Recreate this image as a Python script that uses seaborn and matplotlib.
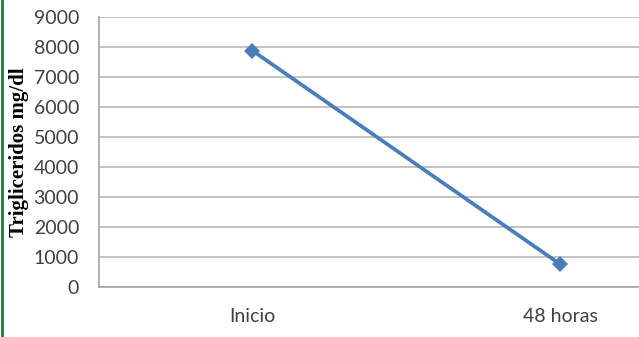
import matplotlib
matplotlib.use("Agg")
import matplotlib.pyplot as plt
import seaborn as sns
import pandas as pd

categories = ["Inicio", "48 horas"]
values = [7880, 760]
y_ticks = [0, 1000, 2000, 3000, 4000, 5000, 6000, 7000, 8000, 9000]

df = pd.DataFrame({"momento": categories, "trig": values})

sns.set_theme(style="white")
plt.rcParams["font.family"] = ["Lato", "DejaVu Sans"]

W, H = 639, 337
fig = plt.figure(figsize=(W / 100, H / 100), dpi=100)
fig.patch.set_facecolor("white")
left, right, top, bottom = 98.5, 714, 17, 287
ax = fig.add_axes([left / W, 1 - bottom / H, (right - left) / W, (bottom - top) / H])

x_pos = list(range(len(categories)))
sns.lineplot(x=x_pos, y=df["trig"], ax=ax, color="#4a7ebb", linewidth=2.7,
             marker="D", markersize=8.5, markeredgewidth=0, markerfacecolor="#4a7ebb")

ax.set_xlim(-0.5, len(categories) - 0.5)
ax.set_ylim(0, 9000)
ax.set_yticks(y_ticks)
ax.set_yticklabels([str(t) for t in y_ticks], fontsize=14, color="#404040")
ax.set_xticks(x_pos)
ax.set_xticklabels(categories, fontsize=14, color="#404040")
ax.tick_params(axis="y", length=0, pad=14)
ax.tick_params(axis="x", length=0, pad=15)
ax.grid(axis="y", color="#b8b8b8", linewidth=1.2)
ax.set_axisbelow(True)
for s in ["top", "right"]:
    ax.spines[s].set_visible(False)
for s in ["left", "bottom"]:
    ax.spines[s].set_color("#a6a6a6")
    ax.spines[s].set_linewidth(1.2)
ax.set_xlabel("")
ax.set_ylabel("Trigliceridos mg/dl", fontsize=15, fontweight="bold",
              family=["Liberation Serif"], color="black")
ax.yaxis.set_label_coords(-(98.5 - 29) / (right - left), (287 - 152) / (bottom - top))

fig.add_artist(plt.Line2D([2 / W, 2 / W], [0, 1], transform=fig.transFigure,
                          color="#1e7b3a", linewidth=2))

fig.savefig("out.png", dpi=100, facecolor="white")
